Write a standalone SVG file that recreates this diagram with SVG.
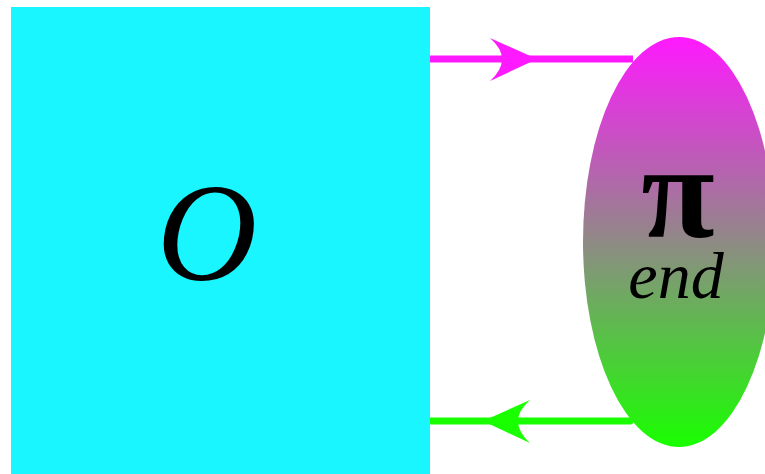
<svg xmlns="http://www.w3.org/2000/svg" width="765" height="474" viewBox="0 0 765 474">
<defs>
<linearGradient id="g" x1="0" y1="0" x2="0" y2="1">
<stop offset="0" stop-color="#ff19ff"/>
<stop offset="0.5" stop-color="#8f8a85"/>
<stop offset="1" stop-color="#19ff00"/>
</linearGradient>
<style>
.lbl{font-family:"Liberation Serif","Times New Roman",serif;fill:#000;text-anchor:middle}
</style>
</defs>
<rect width="765" height="474" fill="#fff"/>
<g id="connectors">
<line x1="430" y1="59" x2="633" y2="59" stroke="#ff19ff" stroke-width="7"/>
<path d="M537,59 L490,38 Q514,59 490,81 Z" fill="#ff19ff"/>
<line x1="430" y1="421" x2="630" y2="421" stroke="#19ff00" stroke-width="7" stroke-linecap="round"/>
<path d="M483,421 L530,400 Q506,421 530,443 Z" fill="#19ff00"/>
</g>
<g id="node-O">
<rect x="11" y="7" width="419" height="467" fill="#19f6ff"/>
<text class="lbl" x="207" y="280" font-size="139" font-style="italic">O</text>
</g>
<g id="node-pi">
<ellipse cx="679" cy="242" rx="96" ry="205" fill="url(#g)"/>
<text class="lbl" x="678" y="237" font-size="134" font-weight="bold">π</text>
<text class="lbl" x="676" y="298" font-size="66" font-style="italic">end</text>
</g>
</svg>
